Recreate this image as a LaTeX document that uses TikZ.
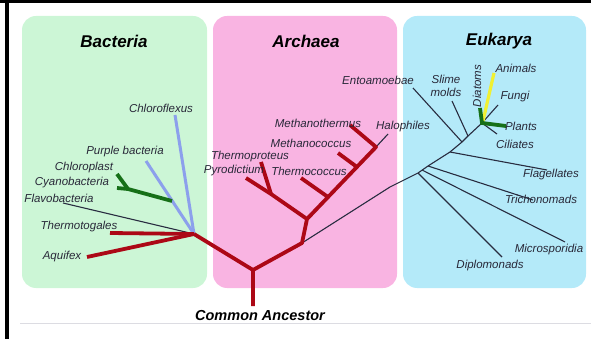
\documentclass[tikz,border=0pt]{standalone}
\usepackage{fontspec}
\setmainfont{Liberation Sans}

\definecolor{bacbg}{RGB}{204,246,214}
\definecolor{arcbg}{RGB}{249,180,226}
\definecolor{eukbg}{RGB}{180,234,249}
\definecolor{treered}{RGB}{172,8,22}
\definecolor{bluebr}{RGB}{140,160,236}
\definecolor{greenbr}{RGB}{22,112,24}
\definecolor{yellowbr}{RGB}{240,240,50}
\definecolor{thinbr}{RGB}{40,44,64}
\definecolor{lbltext}{RGB}{40,40,56}

\tikzset{
  lbl/.style={font=\fontsize{11.5}{12}\selectfont\itshape, text=lbltext, inner sep=0pt},
  head/.style={font=\fontsize{17}{18}\selectfont\bfseries\itshape, inner sep=0pt},
  panel/.style={rounded corners=14pt},
  redbr/.style={treered, line width=3.8pt},
  bluebranch/.style={bluebr, line width=3pt},
  greenbranch/.style={greenbr, line width=3.8pt},
  thinbranch/.style={thinbr, line width=1.1pt}
}

\begin{document}
\begin{tikzpicture}[x=1pt,y=-1pt]
\useasboundingbox (0,0) rectangle (591,339);

\fill[black] (0,0) rectangle (591,3);
\fill[black] (5,0) rectangle (9,339);
\draw[color=blue!10!gray!25, line width=1pt] (20,323) -- (591,323);

\fill[bacbg, panel] (22,16) rectangle (207,288);
\fill[arcbg, panel] (213,16) rectangle (397,288);
\fill[eukbg, panel] (403,16) rectangle (586,288);

\node[head] (bacteria) at (114,41) {Bacteria};
\node[head] (archaea) at (306,41) {Archaea};
\node[head] (eukarya) at (499,41) {Eukarya};
\node[head, font=\fontsize{14.5}{15}\selectfont\bfseries\itshape] (ancestor) at (260,316) {Common Ancestor};

% junctions
\coordinate (rootend) at (253,306);
\coordinate (root) at (253,270);
\coordinate (bachub) at (194,234);
\coordinate (arc) at (302,243);
\coordinate (arctwo) at (307,219);
\coordinate (thfork) at (271,194);
\coordinate (spinetop) at (376,147);
\coordinate (tcbase) at (328,197);
\coordinate (mcbase) at (357,167);
\coordinate (purplejoin) at (172,201);
\coordinate (cyanfork) at (128,189);
\coordinate (eone) at (418,173);
\coordinate (etwo) at (428,166);
\coordinate (ethree) at (450,152);
\coordinate (efour) at (462,142);
\coordinate (efive) at (468,136);
\coordinate (crown) at (482,123);

% branch ends
\coordinate (chloroflexus) at (175,115);
\coordinate (purple) at (146,161);
\coordinate (chloroplast) at (117,174);
\coordinate (cyano) at (117,188);
\coordinate (flavo) at (63,203);
\coordinate (thermotoga) at (110,233);
\coordinate (aquifex) at (87,257);
\coordinate (pyro) at (246,178);
\coordinate (thproteus) at (261,162);
\coordinate (thcoccus) at (301,178);
\coordinate (mcoccus) at (338,153);
\coordinate (mthermus) at (350,125);
\coordinate (halo) at (388,134);
\coordinate (diplo) at (502,257);
\coordinate (micro) at (565,242);
\coordinate (tricho) at (533,200);
\coordinate (flag) at (547,170);
\coordinate (ento) at (413,88);
\coordinate (slime) at (452,101);
\coordinate (cili) at (497,134);
\coordinate (fungi) at (498,105);
\coordinate (animals) at (494,73);
\coordinate (diatoms) at (480,108);
\coordinate (plants) at (506,126);

% thin branches
\draw[thinbranch] (flavo) -- (bachub);
\draw[thinbranch] (spinetop) -- (halo);
\draw[thinbranch] (arc) -- (390,187) -- (eone) -- (etwo) -- (ethree) -- (efour) -- (efive) -- (crown);
\draw[thinbranch] (eone) -- (diplo);
\draw[thinbranch] (422,170) -- (micro);
\draw[thinbranch] (etwo) -- (tricho);
\draw[thinbranch] (ethree) -- (flag);
\draw[thinbranch] (efour) -- (ento);
\draw[thinbranch] (efive) -- (slime);
\draw[thinbranch] (crown) -- (cili);
\draw[thinbranch] (crown) -- (fungi);

% bacteria
\draw[bluebranch] (chloroflexus) -- (bachub);
\draw[bluebranch] (purple) -- (bachub);
\draw[greenbranch] (chloroplast) -- (cyanfork) -- (purplejoin);
\draw[greenbranch] (cyano) -- (cyanfork);
\draw[redbr] (thermotoga) -- (bachub);
\draw[redbr] (aquifex) -- (bachub);

% eukarya crown
\draw[yellowbr, line width=3.2pt] (483,121) -- (animals);
\draw[greenbranch] (diatoms) -- (crown) -- (plants);

% archaea and stem
\draw[redbr] (rootend) -- (root) -- (bachub);
\draw[redbr, line join=round] (root) -- (arc) -- (arctwo) -- (spinetop) -- (mthermus);
\draw[redbr] (arctwo) -- (thfork) -- (pyro);
\draw[redbr] (thfork) -- (thproteus);
\draw[redbr] (tcbase) -- (thcoccus);
\draw[redbr] (mcbase) -- (mcoccus);

% labels
\node[lbl] (lchloroflexus) at (161,108) {Chloroflexus};
\node[lbl] (lpurple) at (125,152) {Purple bacteria};
\node[lbl] (lchloroplast) at (84,168) {Chloroplast};
\node[lbl] (lcyano) at (72,183) {Cyanobacteria};
\node[lbl] (lflavo) at (59,198) {Flavobacteria};
\node[lbl] (lthermotoga) at (79,227) {Thermotogales};
\node[lbl] (laquifex) at (62,257) {Aquifex};
\node[lbl] (lmthermus) at (318,123) {Methanothermus};
\node[lbl] (lmcoccus) at (311,143) {Methanococcus};
\node[lbl] (lthproteus) at (250,157) {Thermoproteus};
\node[lbl] (lpyro) at (234,171) {Pyrodictium};
\node[lbl] (lthcoccus) at (309,171) {Thermococcus};
\node[lbl] (lhalo) at (403,127) {Halophiles};
\node[lbl] (lento) at (378,80) {Entoamoebae};
\node[lbl, align=center, font=\fontsize{11.5}{12.5}\selectfont\itshape] (lslime) at (446,86) {Slime\\molds};
\node[lbl, rotate=90] (ldiatoms) at (477,86) {Diatoms};
\node[lbl] (lanimals) at (516,68) {Animals};
\node[lbl] (lfungi) at (515,97) {Fungi};
\node[lbl] (lplants) at (521,126) {Plants};
\node[lbl] (lcili) at (515,144) {Ciliates};
\node[lbl] (lflag) at (551,175) {Flagellates};
\node[lbl] (ltricho) at (541,199) {Trichonomads};
\node[lbl] (lmicro) at (549,250) {Microsporidia};
\node[lbl] (ldiplo) at (490,266) {Diplomonads};

\end{tikzpicture}
\end{document}
